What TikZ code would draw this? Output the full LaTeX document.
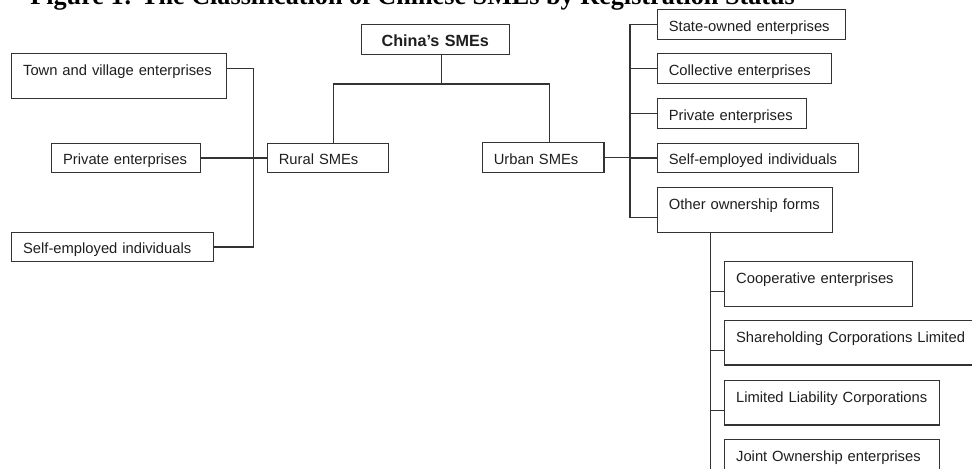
\documentclass[tikz,border=0pt]{standalone}
\usepackage{fontspec}
\setmainfont{Liberation Sans}
\newfontfamily\titlefont{Liberation Serif}
\definecolor{linecol}{HTML}{333333}
\definecolor{txtcol}{HTML}{1E1E1E}

\begin{document}
\begin{tikzpicture}[x=0.02cm,y=-0.02cm,
          link/.style={semithick,linecol},
          entbox/.style={draw=linecol,semithick,anchor=north west,inner xsep=6.6pt,inner ysep=0pt,
            text height=12.3pt,text depth=4.5pt,align=left,text=txtcol,font=\fontsize{8.4}{10}\selectfont},
          tallbox/.style={entbox,text depth=13pt},
          headbox/.style={entbox,align=center,text depth=4.9pt,font=\fontsize{9.2}{11}\selectfont\bfseries}
        ]
        \useasboundingbox (0,0) rectangle (972,468);
        \node[anchor=base west,inner sep=0pt,font=\titlefont\fontsize{14.9}{16}\selectfont\bfseries] (title) at (30,4) {Figure 1: The Classification of Chinese SMEs by Registration Status};
        % top
        \node[headbox,text width=71pt] (china) at (360.7,24) {China's SMEs};
        \node[entbox,text width=55.7pt] (rural) at (266.7,142.7) {Rural SMEs};
        \node[entbox,text width=56.1pt] (urban) at (481.7,142.3) {Urban SMEs};
        % rural side
        \node[tallbox,text width=109.2pt] (tve) at (11,53.3) {Town and village enterprises};
        \node[entbox,text width=71.5pt] (rpriv) at (51,142.7) {Private enterprises};
        \node[entbox,text width=101.5pt] (rself) at (11,231.7) {Self-employed individuals};
        % urban side
        \node[entbox,text width=93.9pt] (state) at (656.7,9.3) {State-owned enterprises};
        \node[entbox,text width=86.2pt] (coll) at (656.7,53.3) {Collective enterprises};
        \node[entbox,text width=71.5pt] (upriv) at (656.7,98) {Private enterprises};
        \node[entbox,text width=101.5pt] (uself) at (656.7,142.7) {Self-employed individuals};
        \node[tallbox,text width=86.3pt] (other) at (656.7,187.3) {Other ownership forms};
        % other forms
        \node[tallbox,text width=93.8pt] (coop) at (724,261.3) {Cooperative enterprises};
        \node[tallbox,text width=134pt] (share) at (724,320) {Shareholding Corporations Limited};
        \node[tallbox,text width=109.2pt] (llc) at (724,380) {Limited Liability Corporations};
        \node[tallbox,text width=109.2pt] (joint) at (724,439) {Joint Ownership enterprises};

        \coordinate (fork) at (441.7,84);
        \coordinate (ltr) at (253.3,0);
        \coordinate (rtr) at (630,0);
        \coordinate (lend) at (710.7,470);

        \draw[link] (china.south -| fork) -- (fork);
        \draw[link] ([xshift=3.3pt]rural.north) |- (fork) -| ([xshift=3.7pt]urban.north);
        \draw[link] ([yshift=4.1pt]tve.east) -| (ltr |- rself.east) -- (rself.east);
        \draw[link] (rpriv.east) -- (rural.west);
        \draw[link] (state.west) -- (state.west -| rtr) -- ([yshift=-4.4pt]other.west -| rtr) -- ([yshift=-4.4pt]other.west);
        \foreach \n in {coll,upriv,uself}
          \draw[link] (\n.west -| rtr) -- (\n.west);
        \draw[link] (urban.east) -- (urban.east -| rtr);
        \draw[link] (other.south -| lend) -- (lend);
        \foreach \n in {coop,share,llc}
          \draw[link] ([yshift=-4.3pt]\n.west -| lend) -- ([yshift=-4.3pt]\n.west);
      \end{tikzpicture}
\end{document}
